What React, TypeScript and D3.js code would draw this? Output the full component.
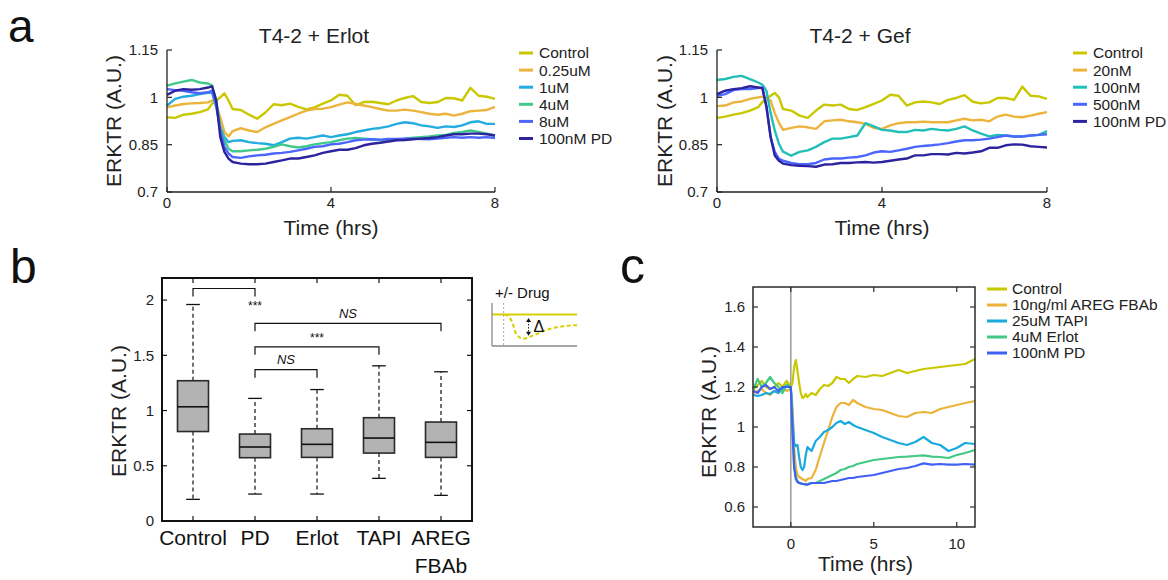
import React from 'react';
import * as d3 from 'd3';

const W = 1168;
const H = 580;
const FONT = '"Liberation Sans", Arial, Helvetica, sans-serif';
const INK = '#222';

// ---------- panel a : ERKTR traces, T4-2 cells ----------
const timeA = [0, 0.2, 0.4, 0.6, 0.8, 1.0, 1.1, 1.2, 1.3, 1.4, 1.5, 1.6, 1.8, 2.0, 2.2, 2.4, 2.6, 2.8, 3.0, 3.2, 3.4, 3.6, 3.8, 4.0,
  4.2, 4.4, 4.6, 4.8, 5.0, 5.2, 5.4, 5.6, 5.8, 6.0, 6.2, 6.4, 6.6, 6.8, 7.0, 7.2, 7.4, 7.6, 7.8, 8.0];
const yTicksA = [0.7, 0.85, 1, 1.15];
const yTickLabelsA = ['0.7', '0.85', '1', '1.15'];
const xTicksA = [0, 4, 8];

const erlotNames = ['Control', '0.25uM', '1uM', '4uM', '8uM', '100nM PD'];
const erlotColors = ['#c9c700', '#ecb43c', '#22ace0', '#40c98a', '#4a66ff', '#2d239e'];
const erlControl = [0.937, 0.935, 0.945, 0.948, 0.953, 0.962, 0.98, 0.99, 1.0, 1.013, 0.99, 0.963, 0.96, 0.945, 0.932, 0.952, 0.978, 0.975, 0.98, 0.97, 0.962, 0.968,
  0.98, 0.99, 1.008, 1.005, 0.975, 0.985, 0.986, 0.982, 0.978, 0.99, 0.998, 1.004, 0.985, 0.982, 0.985, 0.998, 0.997, 0.99, 1.03, 1.005, 1.002, 0.995];
const erl025 = [0.968, 0.974, 0.979, 0.981, 0.982, 0.984, 0.99, 0.975, 0.937, 0.89, 0.876, 0.893, 0.902, 0.895, 0.89, 0.905, 0.916, 0.927, 0.937, 0.948, 0.958, 0.963,
  0.964, 0.969, 0.977, 0.984, 0.979, 0.974, 0.969, 0.963, 0.958, 0.958, 0.961, 0.958, 0.953, 0.948, 0.945, 0.948, 0.942, 0.948, 0.956, 0.958, 0.96, 0.97];
const erl1 = [0.974, 0.995, 1.002, 1.005, 1.01, 1.014, 1.014, 0.969, 0.906, 0.874, 0.858, 0.862, 0.864, 0.858, 0.855, 0.853, 0.848, 0.858, 0.869, 0.872, 0.869, 0.874,
  0.879, 0.874, 0.879, 0.883, 0.89, 0.895, 0.9, 0.903, 0.908, 0.916, 0.921, 0.918, 0.911, 0.908, 0.903, 0.908, 0.906, 0.911, 0.921, 0.924, 0.916, 0.916];
const erl4 = [1.037, 1.044, 1.05, 1.055, 1.047, 1.044, 1.037, 0.99, 0.906, 0.864, 0.837, 0.829, 0.829, 0.832, 0.834, 0.837, 0.843, 0.851, 0.845, 0.841, 0.845, 0.851,
  0.855, 0.858, 0.864, 0.869, 0.871, 0.869, 0.867, 0.864, 0.864, 0.866, 0.869, 0.872, 0.874, 0.876, 0.879, 0.881, 0.887, 0.89, 0.895, 0.89, 0.885, 0.879];
const erl8 = [1.026, 1.023, 1.021, 1.016, 1.013, 1.016, 1.021, 0.979, 0.895, 0.843, 0.822, 0.811, 0.808, 0.813, 0.816, 0.818, 0.822, 0.824, 0.827, 0.832, 0.837, 0.843,
  0.845, 0.851, 0.853, 0.858, 0.864, 0.866, 0.867, 0.866, 0.868, 0.868, 0.869, 0.869, 0.868, 0.867, 0.869, 0.872, 0.874, 0.872, 0.874, 0.872, 0.874, 0.871];
const erlPD = [1.008, 1.021, 1.026, 1.024, 1.026, 1.031, 1.035, 0.99, 0.874, 0.827, 0.806, 0.795, 0.79, 0.788, 0.788, 0.79, 0.795, 0.8, 0.806, 0.806, 0.811, 0.816,
  0.824, 0.829, 0.834, 0.834, 0.839, 0.848, 0.853, 0.856, 0.86, 0.864, 0.865, 0.867, 0.869, 0.871, 0.874, 0.879, 0.883, 0.883, 0.885, 0.885, 0.883, 0.879];

const gefNames = ['Control', '20nM', '100nM', '500nM', '100nM PD'];
const gefColors = ['#c9c700', '#ecb43c', '#22bfb8', '#4a66ff', '#2d239e'];
const gefControl = [0.935, 0.939, 0.945, 0.95, 0.958, 0.969, 0.985, 0.995, 1.005, 1.014, 1.0, 0.963, 0.958, 0.942, 0.935, 0.958, 0.977, 0.974, 0.977, 0.963, 0.96, 0.969,
  0.979, 0.99, 1.008, 1.005, 0.974, 0.984, 0.987, 0.984, 0.979, 0.992, 0.998, 1.007, 0.986, 0.981, 0.984, 0.998, 0.998, 0.992, 1.034, 1.005, 1.003, 0.995];
const gef20 = [0.972, 0.974, 0.984, 0.987, 0.995, 1.0, 1.002, 0.998, 0.99, 0.95, 0.92, 0.897, 0.903, 0.908, 0.905, 0.9, 0.924, 0.927, 0.929, 0.924, 0.921, 0.916,
  0.903, 0.9, 0.911, 0.918, 0.921, 0.921, 0.923, 0.921, 0.921, 0.921, 0.927, 0.932, 0.927, 0.929, 0.924, 0.939, 0.945, 0.939, 0.937, 0.942, 0.948, 0.953];
const gef100 = [1.055, 1.058, 1.065, 1.068, 1.058, 1.047, 1.04, 1.02, 0.95, 0.895, 0.853, 0.828, 0.815, 0.827, 0.832, 0.843, 0.858, 0.869, 0.869, 0.874, 0.879, 0.918,
  0.908, 0.897, 0.895, 0.89, 0.89, 0.897, 0.895, 0.9, 0.897, 0.895, 0.9, 0.908, 0.895, 0.885, 0.876, 0.881, 0.879, 0.876, 0.876, 0.879, 0.881, 0.893];
const gef500 = [1.005, 1.01, 1.023, 1.026, 1.026, 1.029, 1.031, 0.969, 0.874, 0.827, 0.806, 0.799, 0.792, 0.788, 0.788, 0.792, 0.803, 0.806, 0.806, 0.809, 0.811, 0.816,
  0.825, 0.829, 0.827, 0.832, 0.837, 0.843, 0.846, 0.848, 0.851, 0.855, 0.86, 0.864, 0.864, 0.866, 0.869, 0.874, 0.879, 0.876, 0.876, 0.879, 0.881, 0.883];
const gefPD = [1.01, 1.021, 1.026, 1.029, 1.035, 1.031, 1.029, 0.969, 0.874, 0.816, 0.799, 0.79, 0.785, 0.783, 0.782, 0.78, 0.787, 0.788, 0.792, 0.792, 0.794, 0.795,
  0.793, 0.795, 0.799, 0.803, 0.806, 0.816, 0.816, 0.82, 0.82, 0.819, 0.824, 0.822, 0.825, 0.829, 0.84, 0.84, 0.848, 0.851, 0.85, 0.845, 0.843, 0.841];

// ---------- panel b : box plot ----------
const boxCats = ['Control', 'PD', 'Erlot', 'TAPI', 'AREG\nFBAb'];
const boxLow = [0.196, 0.244, 0.244, 0.386, 0.232];
const boxQ1 = [0.81, 0.573, 0.576, 0.615, 0.576];
const boxMed = [1.034, 0.67, 0.694, 0.751, 0.712];
const boxQ3 = [1.27, 0.787, 0.835, 0.935, 0.896];
const boxHigh = [1.96, 1.11, 1.19, 1.405, 1.351];
const yTicksB = [0, 0.5, 1, 1.5, 2];
// significance brackets: [from, to] category index, bracket top (A.U.), label
const bracketFrom = [0, 1, 1, 1];
const bracketTo = [1, 4, 3, 2];
const bracketTop = [2.105, 1.79, 1.577, 1.37];
const bracketLabel = ['***', 'NS', '***', 'NS'];

// schematic inset (+/- drug)
const insetT = [1.5, 2.0, 2.4, 2.9, 3.7, 4.9, 6.5, 8.4, 10];
const insetDrug = [0.735, 0.68, 0.54, 0.26, 0.17, 0.25, 0.38, 0.46, 0.485];
const insetCtrl = 0.735;
const insetDrugOn = 1.37;
const insetDelta = [0.65, 0.24];
const insetDeltaT = 4.3;

// ---------- panel c : ligand / sheddase inhibitors ----------
const timeC = [-2.25, -2, -1.75, -1.5, -1.25, -1, -0.75, -0.5, -0.25, 0, 0.1, 0.2, 0.3, 0.4, 0.5, 0.6, 0.7, 0.8, 0.9, 1.0,
  1.25, 1.5, 1.75, 2.0, 2.25, 2.5, 2.75, 3.0, 3.25, 3.5, 3.75, 4.0, 4.5, 5.0, 5.5, 6.0, 6.5, 7.0, 7.5, 8.0, 8.5, 9.0, 9.5, 10.0, 10.5, 11.1];
const cNames = ['Control', '10ng/ml AREG FBAb', '25uM TAPI', '4uM Erlot', '100nM PD'];
const cColors = ['#c9c700', '#ebb33a', '#1aa9df', '#44c885', '#4060f5'];
const cControl = [1.187, 1.21, 1.23, 1.2, 1.19, 1.2, 1.22, 1.2, 1.23, 1.2, 1.22, 1.3, 1.335, 1.28, 1.22, 1.17, 1.145, 1.15, 1.165, 1.15,
  1.17, 1.16, 1.19, 1.21, 1.205, 1.22, 1.25, 1.24, 1.24, 1.22, 1.24, 1.255, 1.25, 1.26, 1.255, 1.27, 1.285, 1.27, 1.28, 1.29, 1.295, 1.3, 1.305, 1.31, 1.315, 1.34];
const cAreg = [1.17, 1.18, 1.19, 1.17, 1.16, 1.18, 1.17, 1.2, 1.18, 1.19, 1.1, 0.9, 0.8, 0.76, 0.75, 0.745, 0.74, 0.735, 0.73, 0.74,
  0.745, 0.785, 0.855, 0.92, 0.985, 1.05, 1.1, 1.12, 1.12, 1.11, 1.135, 1.12, 1.1, 1.09, 1.085, 1.07, 1.055, 1.05, 1.07, 1.075, 1.07, 1.09, 1.1, 1.11, 1.12, 1.13];
const cTapi = [1.16, 1.155, 1.16, 1.17, 1.165, 1.18, 1.17, 1.19, 1.21, 1.2, 1.05, 0.92, 0.905, 0.91, 0.85, 0.8, 0.785, 0.8, 0.86, 0.9,
  0.88, 0.93, 0.95, 0.975, 0.985, 1.0, 1.02, 1.03, 1.015, 1.025, 1.01, 1.0, 0.985, 0.97, 0.95, 0.935, 0.92, 0.91, 0.925, 0.95, 0.92, 0.91, 0.88, 0.895, 0.92, 0.915];
const cErlot = [1.19, 1.24, 1.2, 1.22, 1.25, 1.22, 1.2, 1.17, 1.21, 1.19, 1.0, 0.8, 0.75, 0.73, 0.72, 0.718, 0.716, 0.715, 0.714, 0.715,
  0.72, 0.72, 0.73, 0.74, 0.75, 0.76, 0.77, 0.785, 0.79, 0.8, 0.805, 0.815, 0.825, 0.835, 0.84, 0.845, 0.85, 0.852, 0.855, 0.858, 0.852, 0.85, 0.845, 0.86, 0.87, 0.885];
const cPD = [1.18, 1.17, 1.2, 1.21, 1.19, 1.2, 1.18, 1.2, 1.2, 1.2, 0.98, 0.8, 0.74, 0.725, 0.72, 0.718, 0.716, 0.714, 0.712, 0.712,
  0.72, 0.72, 0.72, 0.72, 0.725, 0.73, 0.73, 0.735, 0.74, 0.745, 0.745, 0.75, 0.755, 0.76, 0.77, 0.78, 0.79, 0.795, 0.805, 0.818, 0.812, 0.815, 0.812, 0.812, 0.815, 0.812];
const yTicksC = [0.6, 0.8, 1, 1.2, 1.4, 1.6];
const xTicksC = [0, 5, 10];

function TracePanel({ left, right, title, titleX, names, colors, series, legendX, ylabelX }) {
  const x = d3.scaleLinear().domain([0, 8]).range([left, right]);
  const y = d3.scaleLinear().domain([0.7, 1.15]).range([192, 50]);
  const line = d3.line<number>().x((_, i) => x(timeA[i])).y(d => y(d));
  return (
    <g>
      <text x={titleX} y={43} textAnchor="middle" fontSize={21} fill={INK}>{title}</text>
      {series.map((s, i) => (
        <path key={names[i]} d={line(s) || ''} fill="none" stroke={colors[i]} strokeWidth={2.4} strokeLinejoin="round" />
      ))}
      <line x1={left} x2={left} y1={y(1.15)} y2={y(0.7)} stroke={INK} strokeWidth={1.3} />
      <line x1={left} x2={right} y1={y(0.7)} y2={y(0.7)} stroke={INK} strokeWidth={1.3} />
      {yTicksA.map((v, i) => (
        <g key={v}>
          <line x1={left} x2={left + 5} y1={y(v)} y2={y(v)} stroke={INK} strokeWidth={1.2} />
          <text x={left - 9} y={y(v)} dy="0.35em" textAnchor="end" fontSize={15} fill={INK}>{yTickLabelsA[i]}</text>
        </g>
      ))}
      {xTicksA.map(v => (
        <g key={v}>
          <line x1={x(v)} x2={x(v)} y1={y(0.7)} y2={y(0.7) - 5} stroke={INK} strokeWidth={1.2} />
          <text x={x(v)} y={y(0.7) + 16} textAnchor="middle" fontSize={15} fill={INK}>{v}</text>
        </g>
      ))}
      <text x={(left + right) / 2} y={235} textAnchor="middle" fontSize={21} fill={INK}>Time (hrs)</text>
      <text transform={`translate(${ylabelX},${121}) rotate(-90)`} textAnchor="middle" dominantBaseline="central" fontSize={21} fill={INK}>ERKTR (A.U.)</text>
      {names.map((n, i) => (
        <g key={n} transform={`translate(${legendX},${53 + i * 17.1})`}>
          <line x1={0} x2={14} y1={0} y2={0} stroke={colors[i]} strokeWidth={3} />
          <text x={20} y={0} dy="0.35em" fontSize={15.5} fill={INK}>{n}</text>
        </g>
      ))}
    </g>
  );
}

function BoxPanel() {
  const x = d3.scaleLinear().domain([0.5, 5.5]).range([162, 472]);
  const y = d3.scaleLinear().domain([0, 2.2]).range([521, 278]);
  const half = (x(1.25) - x(1));
  const cap = (x(1.11) - x(1));
  const leg = 8;
  return (
    <g>
      {boxCats.map((c, i) => {
        const cx = x(i + 1);
        return (
          <g key={c}>
            <line x1={cx} x2={cx} y1={y(boxQ3[i])} y2={y(boxHigh[i])} stroke="#111" strokeWidth={1.2} strokeDasharray="4,3" />
            <line x1={cx} x2={cx} y1={y(boxQ1[i])} y2={y(boxLow[i])} stroke="#111" strokeWidth={1.2} strokeDasharray="4,3" />
            <line x1={cx - cap} x2={cx + cap} y1={y(boxHigh[i])} y2={y(boxHigh[i])} stroke="#111" strokeWidth={1.3} />
            <line x1={cx - cap} x2={cx + cap} y1={y(boxLow[i])} y2={y(boxLow[i])} stroke="#111" strokeWidth={1.3} />
            <rect x={cx - half} y={y(boxQ3[i])} width={2 * half} height={y(boxQ1[i]) - y(boxQ3[i])} fill="#b3b3b3" stroke="#2a2a2a" strokeWidth={1.6} />
            <line x1={cx - half} x2={cx + half} y1={y(boxMed[i])} y2={y(boxMed[i])} stroke="#111" strokeWidth={1.6} />
            {c.split('\n').map((part, k) => (
              <text key={part} x={cx} y={545 + k * 28} textAnchor="middle" fontSize={21} fill="#111">{part}</text>
            ))}
          </g>
        );
      })}
      {bracketLabel.map((lab, i) => {
        const xa = x(bracketFrom[i] + 1);
        const xb = x(bracketTo[i] + 1);
        const yt = y(bracketTop[i]);
        const first = i === 0;
        const lx = first ? xb : (xa + xb) / 2;
        const ly = first ? yt + 17 : yt - 10;
        return (
          <g key={i}>
            <path d={`M${xa},${yt + leg}V${yt}H${xb}V${yt + leg}`} fill="none" stroke="#111" strokeWidth={1.2} />
            {lab === 'NS'
              ? <text x={lx} y={ly} dy="0.35em" textAnchor="middle" fontSize={13} fontStyle="italic" fill="#111">{lab}</text>
              : <text x={lx} y={ly + 5} textAnchor="middle" fontSize={12} fill="#111">{lab}</text>}
          </g>
        );
      })}
      <rect x={162} y={278} width={310} height={243} fill="none" stroke="#111" strokeWidth={2} />
      {yTicksB.map(v => (
        <g key={v}>
          <line x1={162} x2={167} y1={y(v)} y2={y(v)} stroke="#111" strokeWidth={1.2} />
          <line x1={472} x2={467} y1={y(v)} y2={y(v)} stroke="#111" strokeWidth={1.2} />
          <text x={154} y={y(v)} dy="0.35em" textAnchor="end" fontSize={15} fill="#222">{v}</text>
        </g>
      ))}
      {boxCats.map((c, i) => (
        <g key={c + 't'}>
          <line x1={x(i + 1)} x2={x(i + 1)} y1={278} y2={283} stroke="#111" strokeWidth={1.2} />
          <line x1={x(i + 1)} x2={x(i + 1)} y1={521} y2={516} stroke="#111" strokeWidth={1.2} />
        </g>
      ))}
      <text transform={`translate(118,${411}) rotate(-90)`} textAnchor="middle" dominantBaseline="central" fontSize={21} fill={INK}>ERKTR (A.U.)</text>
    </g>
  );
}

function Inset() {
  const x = d3.scaleLinear().domain([0, 10]).range([492, 577]);
  const y = d3.scaleLinear().domain([0, 1]).range([346, 303]);
  const drug = d3.line<number>().x((_, i) => x(insetT[i])).y(d => y(d)).curve(d3.curveMonotoneX);
  const ax = x(insetDeltaT);
  const ya = y(insetDelta[0]);
  const yb = y(insetDelta[1]);
  return (
    <g>
      <text x={495} y={298} fontSize={15} fill="#111">+/- Drug</text>
      <line x1={x(insetDrugOn)} x2={x(insetDrugOn)} y1={y(1)} y2={y(0)} stroke="#aaa" strokeWidth={1} strokeDasharray="2,2" />
      <line x1={x(0)} x2={x(10)} y1={y(insetCtrl)} y2={y(insetCtrl)} stroke="#d6d000" strokeWidth={2} />
      <path d={drug(insetDrug) || ''} fill="none" stroke="#d6d000" strokeWidth={2} strokeDasharray="4,2.5" />
      <line x1={x(0)} x2={x(0)} y1={y(1)} y2={y(0)} stroke="#888" strokeWidth={1.3} />
      <line x1={x(0)} x2={x(10)} y1={y(0)} y2={y(0)} stroke="#888" strokeWidth={1.3} />
      <line x1={ax} x2={ax} y1={ya + 3} y2={yb - 3} stroke="#111" strokeWidth={1} strokeDasharray="1.5,1.5" />
      <path d={`M${ax - 2.5},${ya + 4}L${ax},${ya}L${ax + 2.5},${ya + 4}Z`} fill="#111" />
      <path d={`M${ax - 2.5},${yb - 4}L${ax},${yb}L${ax + 2.5},${yb - 4}Z`} fill="#111" />
      <text x={ax + 5} y={(ya + yb) / 2} dy="0.35em" fontSize={16} fill="#111">Δ</text>
    </g>
  );
}

function InhibitorPanel() {
  const x = d3.scaleLinear().domain([-2.28, 11.1]).range([753, 975]);
  const y = d3.scaleLinear().domain([0.5, 1.7]).range([527, 287]);
  const line = d3.line<number>().x((_, i) => x(timeC[i])).y(d => y(d));
  const series = [cControl, cAreg, cTapi, cErlot, cPD];
  const [x0, x1] = x.range();
  const [y0, y1] = y.range();
  return (
    <g>
      <line x1={x(0)} x2={x(0)} y1={y1} y2={y0} stroke="#8a8a8a" strokeWidth={1.3} />
      {series.map((s, i) => (
        <path key={cNames[i]} d={line(s) || ''} fill="none" stroke={cColors[i]} strokeWidth={2.2} strokeLinejoin="round" />
      ))}
      <rect x={x0} y={y1} width={x1 - x0} height={y0 - y1} fill="none" stroke="#2a2a2a" strokeWidth={1.5} />
      {yTicksC.map(v => (
        <g key={v}>
          <line x1={x0} x2={x0 + 5} y1={y(v)} y2={y(v)} stroke="#2a2a2a" strokeWidth={1.2} />
          <line x1={x1} x2={x1 - 5} y1={y(v)} y2={y(v)} stroke="#2a2a2a" strokeWidth={1.2} />
          <text x={745} y={y(v)} dy="0.35em" textAnchor="end" fontSize={15} fill={INK}>{v}</text>
        </g>
      ))}
      {xTicksC.map(v => (
        <g key={v}>
          <line x1={x(v)} x2={x(v)} y1={y0} y2={y0 - 5} stroke="#2a2a2a" strokeWidth={1.2} />
          <line x1={x(v)} x2={x(v)} y1={y1} y2={y1 + 5} stroke="#2a2a2a" strokeWidth={1.2} />
          <text x={x(v)} y={549} textAnchor="middle" fontSize={15} fill={INK}>{v}</text>
        </g>
      ))}
      <text x={x(4.5)} y={571} textAnchor="middle" fontSize={21} fill={INK}>Time (hrs)</text>
      <text transform={`translate(708,${412}) rotate(-90)`} textAnchor="middle" dominantBaseline="central" fontSize={21} fill={INK}>ERKTR (A.U.)</text>
      {cNames.map((n, i) => (
        <g key={n} transform={`translate(987,${289 + i * 16})`}>
          <line x1={0} x2={20} y1={0} y2={0} stroke={cColors[i]} strokeWidth={3} />
          <text x={25} y={0} dy="0.35em" fontSize={15.5} fill={INK}>{n}</text>
        </g>
      ))}
    </g>
  );
}

export default function App() {
  return (
    <div style={{ width: W, height: H, background: '#fff' }}>
      <style>{'body{margin:0}'}</style>
      <svg width={W} height={H} style={{ display: 'block', fontFamily: FONT }}>
        <rect width={W} height={H} fill="#fff" />
        <text x={8} y={42} fontSize={46} fill="#111">a</text>
        <text x={10} y={283} fontSize={48} fill="#111">b</text>
        <text x={620} y={283} fontSize={50} fill="#111">c</text>
        <TracePanel left={167} right={495} title="T4-2 + Erlot" titleX={314} names={erlotNames} colors={erlotColors}
          series={[erlControl, erl025, erl1, erl4, erl8, erlPD]} legendX={519} ylabelX={113} />
        <TracePanel left={717} right={1047} title="T4-2 + Gef" titleX={860} names={gefNames} colors={gefColors}
          series={[gefControl, gef20, gef100, gef500, gefPD]} legendX={1073} ylabelX={664} />
        <BoxPanel />
        <Inset />
        <InhibitorPanel />
      </svg>
    </div>
  );
}
